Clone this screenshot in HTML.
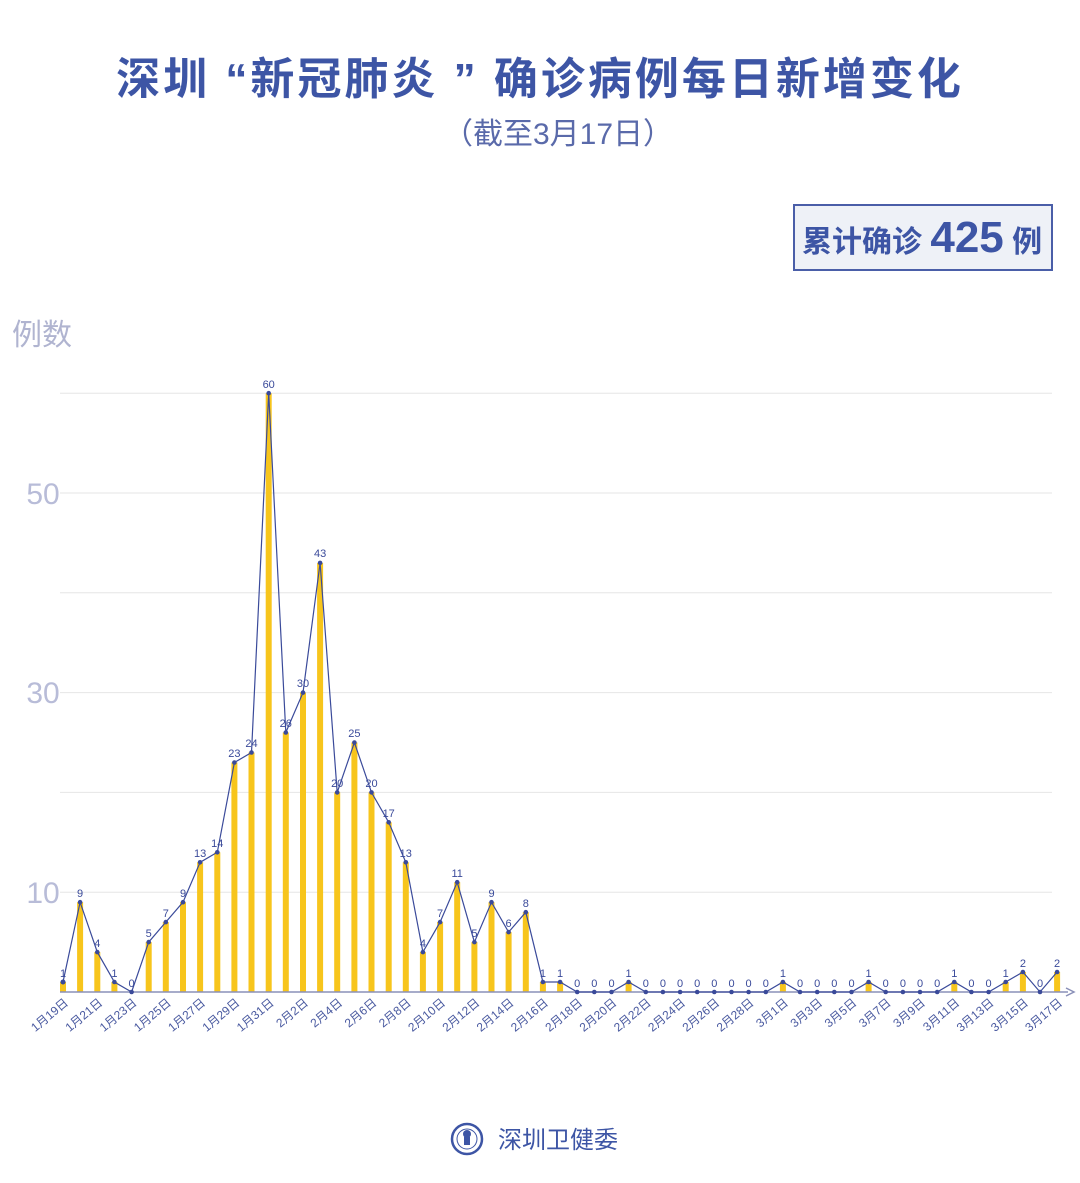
<!DOCTYPE html>
<html><head><meta charset="utf-8"><style>
body{margin:0;background:#fff;}
svg{display:block;font-family:"Liberation Sans","Noto Sans CJK SC",sans-serif;}
</style></head><body>
<svg width="1080" height="1183" viewBox="0 0 1080 1183">
<text x="540" y="94" text-anchor="middle" font-size="44" font-weight="bold" fill="#3d55a5" letter-spacing="3">深圳 “新冠肺炎 ” 确诊病例每日新增变化</text>
<text x="558" y="144" text-anchor="middle" font-size="30" fill="#5a6aaa">（截至3月17日）</text>
<rect x="794" y="205" width="258" height="65" fill="#eef1f7" stroke="#4a5ea8" stroke-width="2"/>
<text x="802" y="252" font-size="30" font-weight="bold" fill="#3d55a5">累计确诊 <tspan font-size="44">425</tspan> 例</text>
<text x="12" y="345" font-size="30" fill="#b0b4d0">例数</text>
<g font-size="30" fill="#b8bcd8" text-anchor="middle">
<text x="43" y="903">10</text><text x="43" y="703">30</text><text x="43" y="504">50</text></g>
<g transform="translate(63,992)">
<g stroke="#e6e6e6" stroke-width="1">
<line x1="-3" x2="989" y1="-99.8" y2="-99.8"/><line x1="-3" x2="989" y1="-199.6" y2="-199.6"/><line x1="-3" x2="989" y1="-299.4" y2="-299.4"/><line x1="-3" x2="989" y1="-399.2" y2="-399.2"/><line x1="-3" x2="989" y1="-499" y2="-499"/><line x1="-3" x2="989" y1="-598.8" y2="-598.8"/>
</g>
<g fill="#f7c51c">
<rect x="-3" y="-10" width="6" height="10"/><rect x="14.1" y="-89.8" width="6" height="89.8"/><rect x="31.3" y="-39.9" width="6" height="39.9"/><rect x="48.4" y="-10" width="6" height="10"/><rect x="82.7" y="-49.9" width="6" height="49.9"/><rect x="99.8" y="-69.9" width="6" height="69.9"/><rect x="117" y="-89.8" width="6" height="89.8"/><rect x="134.1" y="-129.7" width="6" height="129.7"/><rect x="151.3" y="-139.7" width="6" height="139.7"/><rect x="168.4" y="-229.5" width="6" height="229.5"/><rect x="185.5" y="-239.5" width="6" height="239.5"/><rect x="202.7" y="-598.8" width="6" height="598.8"/><rect x="219.8" y="-259.5" width="6" height="259.5"/><rect x="237" y="-299.4" width="6" height="299.4"/><rect x="254.1" y="-429.1" width="6" height="429.1"/><rect x="271.2" y="-199.6" width="6" height="199.6"/><rect x="288.4" y="-249.5" width="6" height="249.5"/><rect x="305.5" y="-199.6" width="6" height="199.6"/><rect x="322.7" y="-169.7" width="6" height="169.7"/><rect x="339.8" y="-129.7" width="6" height="129.7"/><rect x="356.9" y="-39.9" width="6" height="39.9"/><rect x="374.1" y="-69.9" width="6" height="69.9"/><rect x="391.2" y="-109.8" width="6" height="109.8"/><rect x="408.4" y="-49.9" width="6" height="49.9"/><rect x="425.5" y="-89.8" width="6" height="89.8"/><rect x="442.6" y="-59.9" width="6" height="59.9"/><rect x="459.8" y="-79.8" width="6" height="79.8"/><rect x="476.9" y="-10" width="6" height="10"/><rect x="494.1" y="-10" width="6" height="10"/><rect x="562.6" y="-10" width="6" height="10"/><rect x="716.9" y="-10" width="6" height="10"/><rect x="802.6" y="-10" width="6" height="10"/><rect x="888.3" y="-10" width="6" height="10"/><rect x="939.7" y="-10" width="6" height="10"/><rect x="956.9" y="-20" width="6" height="20"/><rect x="991.1" y="-20" width="6" height="20"/>
</g>
<line x1="-3" y1="0" x2="1005" y2="0" stroke="#8a90b8" stroke-width="1.5"/>
<path d="M1003,-4 L1011,0 L1003,4" fill="none" stroke="#8a90b8" stroke-width="1.5"/>
<polyline id="ln" fill="none" stroke="#3a4a9a" stroke-width="1.2" points="0,-10 17.1,-89.8 34.3,-39.9 51.4,-10 68.6,0 85.7,-49.9 102.8,-69.9 120,-89.8 137.1,-129.7 154.3,-139.7 171.4,-229.5 188.5,-239.5 205.7,-598.8 222.8,-259.5 240,-299.4 257.1,-429.1 274.2,-199.6 291.4,-249.5 308.5,-199.6 325.7,-169.7 342.8,-129.7 359.9,-39.9 377.1,-69.9 394.2,-109.8 411.4,-49.9 428.5,-89.8 445.6,-59.9 462.8,-79.8 479.9,-10 497.1,-10 514.2,0 531.3,0 548.5,0 565.6,-10 582.8,0 599.9,0 617.1,0 634.2,0 651.3,0 668.5,0 685.6,0 702.8,0 719.9,-10 737,0 754.2,0 771.3,0 788.5,0 805.6,-10 822.7,0 839.9,0 857,0 874.2,0 891.3,-10 908.4,0 925.6,0 942.7,-10 959.9,-20 977,0 994.1,-20"/>
<polyline fill="none" stroke="#3a4a9a" stroke-width="5" stroke-linecap="round" stroke-dasharray="0 2000" points="0,-10 17.1,-89.8"/>
<g fill="#3a4a9a">
<circle cx="0" cy="-10" r="2.3"/><circle cx="17.1" cy="-89.8" r="2.3"/><circle cx="34.3" cy="-39.9" r="2.3"/><circle cx="51.4" cy="-10" r="2.3"/><circle cx="68.6" cy="0" r="2.3"/><circle cx="85.7" cy="-49.9" r="2.3"/><circle cx="102.8" cy="-69.9" r="2.3"/><circle cx="120" cy="-89.8" r="2.3"/><circle cx="137.1" cy="-129.7" r="2.3"/><circle cx="154.3" cy="-139.7" r="2.3"/><circle cx="171.4" cy="-229.5" r="2.3"/><circle cx="188.5" cy="-239.5" r="2.3"/><circle cx="205.7" cy="-598.8" r="2.3"/><circle cx="222.8" cy="-259.5" r="2.3"/><circle cx="240" cy="-299.4" r="2.3"/><circle cx="257.1" cy="-429.1" r="2.3"/><circle cx="274.2" cy="-199.6" r="2.3"/><circle cx="291.4" cy="-249.5" r="2.3"/><circle cx="308.5" cy="-199.6" r="2.3"/><circle cx="325.7" cy="-169.7" r="2.3"/><circle cx="342.8" cy="-129.7" r="2.3"/><circle cx="359.9" cy="-39.9" r="2.3"/><circle cx="377.1" cy="-69.9" r="2.3"/><circle cx="394.2" cy="-109.8" r="2.3"/><circle cx="411.4" cy="-49.9" r="2.3"/><circle cx="428.5" cy="-89.8" r="2.3"/><circle cx="445.6" cy="-59.9" r="2.3"/><circle cx="462.8" cy="-79.8" r="2.3"/><circle cx="479.9" cy="-10" r="2.3"/><circle cx="497.1" cy="-10" r="2.3"/><circle cx="514.2" cy="0" r="2.3"/><circle cx="531.3" cy="0" r="2.3"/><circle cx="548.5" cy="0" r="2.3"/><circle cx="565.6" cy="-10" r="2.3"/><circle cx="582.8" cy="0" r="2.3"/><circle cx="599.9" cy="0" r="2.3"/><circle cx="617.1" cy="0" r="2.3"/><circle cx="634.2" cy="0" r="2.3"/><circle cx="651.3" cy="0" r="2.3"/><circle cx="668.5" cy="0" r="2.3"/><circle cx="685.6" cy="0" r="2.3"/><circle cx="702.8" cy="0" r="2.3"/><circle cx="719.9" cy="-10" r="2.3"/><circle cx="737" cy="0" r="2.3"/><circle cx="754.2" cy="0" r="2.3"/><circle cx="771.3" cy="0" r="2.3"/><circle cx="788.5" cy="0" r="2.3"/><circle cx="805.6" cy="-10" r="2.3"/><circle cx="822.7" cy="0" r="2.3"/><circle cx="839.9" cy="0" r="2.3"/><circle cx="857" cy="0" r="2.3"/><circle cx="874.2" cy="0" r="2.3"/><circle cx="891.3" cy="-10" r="2.3"/><circle cx="908.4" cy="0" r="2.3"/><circle cx="925.6" cy="0" r="2.3"/><circle cx="942.7" cy="-10" r="2.3"/><circle cx="959.9" cy="-20" r="2.3"/><circle cx="977" cy="0" r="2.3"/><circle cx="994.1" cy="-20" r="2.3"/>
</g>
<g font-size="11" fill="#3a4a9a" text-anchor="middle">
<text x="0" y="-15">1</text><text x="17.1" y="-95">9</text><text x="34.3" y="-45">4</text><text x="51.4" y="-15">1</text><text x="68.6" y="-5">0</text><text x="85.7" y="-55">5</text><text x="102.8" y="-75">7</text><text x="120" y="-95">9</text><text x="137.1" y="-135">13</text><text x="154.3" y="-145">14</text><text x="171.4" y="-235">23</text><text x="188.5" y="-245">24</text><text x="205.7" y="-604">60</text><text x="222.8" y="-265">26</text><text x="240" y="-305">30</text><text x="257.1" y="-435">43</text><text x="274.2" y="-205">20</text><text x="291.4" y="-255">25</text><text x="308.5" y="-205">20</text><text x="325.7" y="-175">17</text><text x="342.8" y="-135">13</text><text x="359.9" y="-45">4</text><text x="377.1" y="-75">7</text><text x="394.2" y="-115">11</text><text x="411.4" y="-55">5</text><text x="428.5" y="-95">9</text><text x="445.6" y="-65">6</text><text x="462.8" y="-85">8</text><text x="479.9" y="-15">1</text><text x="497.1" y="-15">1</text><text x="514.2" y="-5">0</text><text x="531.3" y="-5">0</text><text x="548.5" y="-5">0</text><text x="565.6" y="-15">1</text><text x="582.8" y="-5">0</text><text x="599.9" y="-5">0</text><text x="617.1" y="-5">0</text><text x="634.2" y="-5">0</text><text x="651.3" y="-5">0</text><text x="668.5" y="-5">0</text><text x="685.6" y="-5">0</text><text x="702.8" y="-5">0</text><text x="719.9" y="-15">1</text><text x="737" y="-5">0</text><text x="754.2" y="-5">0</text><text x="771.3" y="-5">0</text><text x="788.5" y="-5">0</text><text x="805.6" y="-15">1</text><text x="822.7" y="-5">0</text><text x="839.9" y="-5">0</text><text x="857" y="-5">0</text><text x="874.2" y="-5">0</text><text x="891.3" y="-15">1</text><text x="908.4" y="-5">0</text><text x="925.6" y="-5">0</text><text x="942.7" y="-15">1</text><text x="959.9" y="-25">2</text><text x="977" y="-5">0</text><text x="994.1" y="-25">2</text>
</g>
<g font-size="12" fill="#4a5aa0" text-anchor="end">
<text transform="translate(6,12) rotate(-40)">1月19日</text>
<text transform="translate(40.3,12) rotate(-40)">1月21日</text>
<text transform="translate(74.6,12) rotate(-40)">1月23日</text>
<text transform="translate(108.8,12) rotate(-40)">1月25日</text>
<text transform="translate(143.1,12) rotate(-40)">1月27日</text>
<text transform="translate(177.4,12) rotate(-40)">1月29日</text>
<text transform="translate(211.7,12) rotate(-40)">1月31日</text>
<text transform="translate(246,12) rotate(-40)">2月2日</text>
<text transform="translate(280.2,12) rotate(-40)">2月4日</text>
<text transform="translate(314.5,12) rotate(-40)">2月6日</text>
<text transform="translate(348.8,12) rotate(-40)">2月8日</text>
<text transform="translate(383.1,12) rotate(-40)">2月10日</text>
<text transform="translate(417.4,12) rotate(-40)">2月12日</text>
<text transform="translate(451.6,12) rotate(-40)">2月14日</text>
<text transform="translate(485.9,12) rotate(-40)">2月16日</text>
<text transform="translate(520.2,12) rotate(-40)">2月18日</text>
<text transform="translate(554.5,12) rotate(-40)">2月20日</text>
<text transform="translate(588.8,12) rotate(-40)">2月22日</text>
<text transform="translate(623.1,12) rotate(-40)">2月24日</text>
<text transform="translate(657.3,12) rotate(-40)">2月26日</text>
<text transform="translate(691.6,12) rotate(-40)">2月28日</text>
<text transform="translate(725.9,12) rotate(-40)">3月1日</text>
<text transform="translate(760.2,12) rotate(-40)">3月3日</text>
<text transform="translate(794.5,12) rotate(-40)">3月5日</text>
<text transform="translate(828.7,12) rotate(-40)">3月7日</text>
<text transform="translate(863,12) rotate(-40)">3月9日</text>
<text transform="translate(897.3,12) rotate(-40)">3月11日</text>
<text transform="translate(931.6,12) rotate(-40)">3月13日</text>
<text transform="translate(965.9,12) rotate(-40)">3月15日</text>
<text transform="translate(1000.1,12) rotate(-40)">3月17日</text>
</g>
</g>
<circle cx="467" cy="1139" r="15" fill="#fff" stroke="#3d55a5" stroke-width="2.5"/>
<circle cx="467" cy="1139" r="10" fill="none" stroke="#3d55a5" stroke-width="1"/>
<circle cx="467" cy="1134" r="4" fill="#3d55a5"/>
<rect x="464" y="1137" width="6" height="8" fill="#3d55a5"/>
<text x="498" y="1148" font-size="24" fill="#3d55a5">深圳卫健委</text>
</svg>
</body></html>
